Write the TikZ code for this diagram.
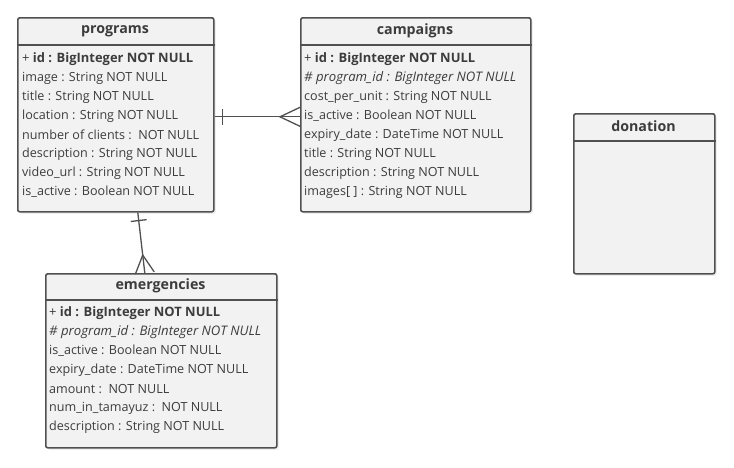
\documentclass[tikz,border=0pt]{standalone}
\usepackage{fontspec}
\setmainfont{Open Sans}
\usetikzlibrary{calc,shadows}
\definecolor{boxfill}{HTML}{F2F2F2}
\definecolor{boxline}{HTML}{505050}
\definecolor{txt}{HTML}{3C3C3C}
\newlength\mytw
\begin{document}
\settowidth\mytw{\fontsize{10}{12}\selectfont description : String NOT NULL}%
\pgfmathsetmacro\rowsize{10*175/\mytw}%
\settowidth\mytw{\fontsize{10}{12}\selectfont + \bfseries id : BigInteger NOT NULL}%
\pgfmathsetmacro\boldsize{10*171/\mytw}%
\settowidth\mytw{\fontsize{10}{12}\selectfont\itshape \# program\_id : BigInteger NOT NULL}%
\pgfmathsetmacro\itsize{10*212/\mytw}%
\settowidth\mytw{\fontsize{10}{12}\selectfont\bfseries emergencies}%
\pgfmathsetmacro\hdrsize{10*90/\mytw}%
\begin{tikzpicture}[x=1pt,y=-1pt,
  tbl/.style={draw=boxline, line width=1.6pt, fill=boxfill, rounded corners=2pt, anchor=north west, inner sep=0pt,
     drop shadow={opacity=0.12, shadow xshift=2pt, shadow yshift=-2pt}},
  hdr/.style={font=\fontsize{\hdrsize}{\hdrsize}\selectfont\bfseries, text=txt, inner sep=0pt},
  row/.style={font=\fontsize{\rowsize}{\rowsize}\selectfont, text=txt, anchor=west, inner sep=0pt},
  pkrow/.style={row, font=\fontsize{\boldsize}{\boldsize}\selectfont},
  fkrow/.style={row, font=\fontsize{\itsize}{\itsize}\selectfont\itshape},
  conn/.style={draw=boxline, line width=1.3pt}]
\useasboundingbox (0,0) rectangle (734,467);
\fill[white] (0,0) rectangle (734,467);

% programs
\node[tbl, minimum width=196pt, minimum height=194pt] (programs) at (17,17) {};
\draw[boxline, line width=1.3pt] ($(programs.north west)+(0,28)$) -- ($(programs.north east)+(0,28)$);
\node[hdr] (ph) at (115,31) {programs};
\node[pkrow] (p1) at (22,59) {+ \textbf{id : BigInteger NOT NULL}};
\node[row] (p2) at (22,78) {image : String NOT NULL};
\node[row] (p3) at (22,97) {title : String NOT NULL};
\node[row] (p4) at (22,116) {location : String NOT NULL};
\node[row] (p5) at (22,135) {number of clients :\ \ NOT NULL};
\node[row] (p6) at (22,154) {description : String NOT NULL};
\node[row] (p7) at (22,173) {video\_url : String NOT NULL};
\node[row] (p8) at (22,192) {is\_active : Boolean NOT NULL};

% campaigns
\node[tbl, minimum width=230pt, minimum height=194pt] (campaigns) at (300,17) {};
\draw[boxline, line width=1.3pt] ($(campaigns.north west)+(0,28)$) -- ($(campaigns.north east)+(0,28)$);
\node[hdr] (ch) at (415,31) {campaigns};
\node[pkrow] (c1) at (304,59) {+ \textbf{id : BigInteger NOT NULL}};
\node[fkrow] (c2) at (304,78) {\# program\_id : BigInteger NOT NULL};
\node[row] (c3) at (304,97) {cost\_per\_unit : String NOT NULL};
\node[row] (c4) at (304,116) {is\_active : Boolean NOT NULL};
\node[row] (c5) at (304,135) {expiry\_date : DateTime NOT NULL};
\node[row] (c6) at (304,154) {title : String NOT NULL};
\node[row] (c7) at (304,173) {description : String NOT NULL};
\node[row] (c8) at (304,192) {images[ ] : String NOT NULL};

% emergencies
\node[tbl, minimum width=231pt, minimum height=174pt] (emergencies) at (45,273) {};
\draw[boxline, line width=1.3pt] ($(emergencies.north west)+(0,27)$) -- ($(emergencies.north east)+(0,27)$);
\node[hdr] (eh) at (160.5,286) {emergencies};
\node[pkrow] (e1) at (49,313) {+ \textbf{id : BigInteger NOT NULL}};
\node[fkrow] (e2) at (49,332) {\# program\_id : BigInteger NOT NULL};
\node[row] (e3) at (49,351) {is\_active : Boolean NOT NULL};
\node[row] (e4) at (49,370) {expiry\_date : DateTime NOT NULL};
\node[row] (e5) at (49,389) {amount :\ \ NOT NULL};
\node[row] (e6) at (49,408) {num\_in\_tamayuz :\ \ NOT NULL};
\node[row] (e7) at (49,427) {description : String NOT NULL};

% donation
\node[tbl, minimum width=141pt, minimum height=160pt] (donation) at (573,113) {};
\draw[boxline, line width=1.3pt] ($(donation.north west)+(0,28)$) -- ($(donation.north east)+(0,28)$);
\node[hdr] (dh) at (643.5,126) {donation};

% programs -- campaigns (one to many)
\coordinate (a1) at ([yshift=-2pt]programs.east);
\coordinate (b1) at ([yshift=-2pt]campaigns.west);
\draw[conn] (a1) -- (b1);
\coordinate (t1) at ($(a1)!8pt!(b1)$);
\draw[conn] ($(t1)!8pt!90:(b1)$) -- ($(t1)!8pt!-90:(b1)$);
\coordinate (s1) at ($(b1)!20pt!(a1)$);
\draw[conn] ($(b1)!9.5pt!90:(a1)$) -- (s1) -- ($(b1)!9.5pt!-90:(a1)$);

% programs -- emergencies (one to many)
\coordinate (a2) at ([xshift=22pt]programs.south);
\coordinate (b2) at ([xshift=-16.5pt]emergencies.north);
\draw[conn] (a2) -- (b2);
\coordinate (t2) at ($(a2)!8pt!(b2)$);
\draw[conn] ($(t2)!8pt!90:(b2)$) -- ($(t2)!8pt!-90:(b2)$);
\coordinate (s2) at ($(b2)!18pt!(a2)$);
\draw[conn] ($(b2)!9.5pt!90:(a2)$) -- (s2) -- ($(b2)!9.5pt!-90:(a2)$);
\end{tikzpicture}
\end{document}
